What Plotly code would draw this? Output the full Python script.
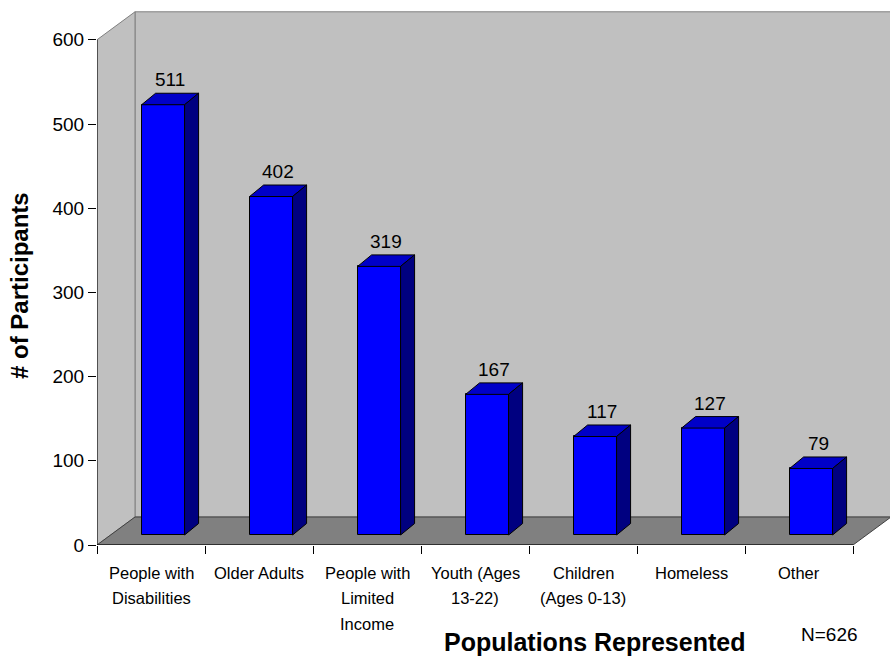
import plotly.graph_objects as go

# ---- data -------------------------------------------------------------
categories = [
    "People with<br>Disabilities",
    "Older Adults",
    "People with<br>Limited<br>Income",
    "Youth (Ages<br>13-22)",
    "Children<br>(Ages 0-13)",
    "Homeless",
    "Other",
]
participants = [511, 402, 319, 167, 117, 127, 79]
y_tick_values = [0, 100, 200, 300, 400, 500, 600]
y_max_tick = 600
sample_note = "N=626"
x_title = "Populations Represented"
y_title = "# of Participants"

# ---- geometry ---------------------------------------------------------
W, H = 890, 656
M_L, M_R, M_T, M_B = 97, 0, 0, 111
PLOT_W = W - M_L - M_R
PLOT_H = H - M_T - M_B
PX_PER_CAT = 108.0
PX_PER_VAL = 0.842
X_RANGE = [0, PLOT_W / PX_PER_CAT]
Y_RANGE = [0, PLOT_H / PX_PER_VAL]


def ux(px):
    return px / PX_PER_CAT


def uy(px):
    return px / PX_PER_VAL


def paper_x(px):
    return (px - M_L) / PLOT_W


def paper_y(py):
    return (M_T + PLOT_H - py) / PLOT_H


n = len(categories)
WALL_DX, WALL_DY = ux(38), uy(28)      # depth of the 3-D box
FRONT_DX, FRONT_DY = ux(13.6), uy(10)  # bars sit a little behind the front edge
BAR_DX, BAR_DY = ux(14), uy(11.5)      # depth of each column
BAR_OFF, BAR_W = 0.287, 0.398

FONT = "Liberation Sans, Arial, sans-serif"

WALL = "#C0C0C0"
FLOOR = "#808080"
EDGE = "#808080"
FRONT = "#0000FF"
TOP = "#0000C8"
SIDE = "#000080"

fig = go.Figure()

# front faces of the columns
x_front = [i + BAR_OFF + FRONT_DX + BAR_W / 2 for i in range(n)]
fig.add_trace(go.Bar(
    x=x_front, y=participants, base=[FRONT_DY] * n, width=BAR_W,
    marker=dict(color=FRONT, line=dict(color="black", width=1)),
    hoverinfo="skip", showlegend=False,
))

# top and side faces
top_x, top_y, side_x, side_y = [], [], [], []
for i, v in enumerate(participants):
    x0 = i + BAR_OFF + FRONT_DX
    x1 = x0 + BAR_W
    y0 = FRONT_DY
    y1 = v + FRONT_DY
    top_x += [x0, x1, x1 + BAR_DX, x0 + BAR_DX, x0, None]
    top_y += [y1, y1, y1 + BAR_DY, y1 + BAR_DY, y1, None]
    side_x += [x1, x1 + BAR_DX, x1 + BAR_DX, x1, x1, None]
    side_y += [y0, y0 + BAR_DY, y1 + BAR_DY, y1, y0, None]

for xs, ys, col in ((top_x, top_y, TOP), (side_x, side_y, SIDE)):
    fig.add_trace(go.Scatter(
        x=xs, y=ys, mode="lines", fill="toself", fillcolor=col,
        line=dict(color="black", width=1), hoverinfo="skip", showlegend=False,
    ))

# ---- box: back wall, side wall, floor, axis lines ----------------------
shapes = [
    dict(type="path", layer="below",
         path=f"M {WALL_DX},{WALL_DY} L {n + WALL_DX},{WALL_DY} L {n + WALL_DX},{y_max_tick + WALL_DY} "
              f"L {WALL_DX},{y_max_tick + WALL_DY} Z",
         fillcolor=WALL, line=dict(color=EDGE, width=1)),
    dict(type="path", layer="below",
         path=f"M 0,0 L {WALL_DX},{WALL_DY} L {WALL_DX},{y_max_tick + WALL_DY} L 0,{y_max_tick} Z",
         fillcolor=WALL, line=dict(color=EDGE, width=1)),
    dict(type="path", layer="below",
         path=f"M 0,0 L {n},0 L {n + WALL_DX},{WALL_DY} L {WALL_DX},{WALL_DY} Z",
         fillcolor=FLOOR, line=dict(color="#404040", width=1)),
    dict(type="line", layer="above", x0=0, x1=0, y0=0, y1=y_max_tick,
         line=dict(color="black", width=1)),
    dict(type="line", layer="above", x0=0, x1=n, y0=0, y1=0,
         line=dict(color="black", width=1)),
]
for s in shapes:
    s.update(xref="x", yref="y")

# ---- text ---------------------------------------------------------------
annotations = []
for i, v in enumerate(participants):
    annotations.append(dict(
        x=x_front[i] + BAR_DX / 2, y=v + FRONT_DY + BAR_DY,
        xref="x", yref="y", text=str(v), showarrow=False,
        xanchor="center", yanchor="bottom", yshift=1,
        font=dict(family=FONT, size=19, color="black"),
    ))

# category names under the floor, one line at a time (26 px leading)
LINE_CENTERS = [572.5, 598.0, 623.5]
for i, label in enumerate(categories):
    for k, part in enumerate(label.split("<br>")):
        annotations.append(dict(
            x=i + 0.5, y=paper_y(LINE_CENTERS[k]), xref="x", yref="paper",
            text=part, showarrow=False, xanchor="center", yanchor="middle",
            font=dict(family=FONT, size=16.5, color="black"),
        ))

annotations += [
    dict(x=paper_x(594), y=paper_y(641.5), xref="paper", yref="paper",
         text=f"<b>{x_title}</b>", showarrow=False, xanchor="center", yanchor="middle",
         font=dict(family=FONT, size=25, color="black")),
    dict(x=paper_x(829), y=paper_y(634), xref="paper", yref="paper",
         text=sample_note, showarrow=False, xanchor="center", yanchor="middle",
         font=dict(family=FONT, size=19, color="black")),
    dict(x=paper_x(20), y=paper_y(286), xref="paper", yref="paper",
         text=f"<b>{y_title}</b>", showarrow=False, textangle=-90,
         xanchor="center", yanchor="middle",
         font=dict(family=FONT, size=24, color="black")),
]

fig.update_layout(
    width=W, height=H, autosize=False,
    margin=dict(l=M_L, r=M_R, t=M_T, b=M_B, pad=0),
    paper_bgcolor="white", plot_bgcolor="white",
    shapes=shapes, annotations=annotations,
    bargap=0, showlegend=False,
    xaxis=dict(
        range=X_RANGE, showgrid=False, zeroline=False, showline=False,
        tickmode="array", tickvals=list(range(n + 1)), ticks="outside",
        ticklen=8, tickcolor="black", tickwidth=1, showticklabels=False,
        automargin=False, fixedrange=True,
    ),
    yaxis=dict(
        range=Y_RANGE, showgrid=False, zeroline=False, showline=False,
        tickmode="array", tickvals=y_tick_values, ticks="outside", ticklen=8,
        tickcolor="black", tickwidth=1,
        tickfont=dict(family=FONT, size=19, color="black"),
        automargin=False, fixedrange=True,
    ),
)

fig.write_html("out.html")
